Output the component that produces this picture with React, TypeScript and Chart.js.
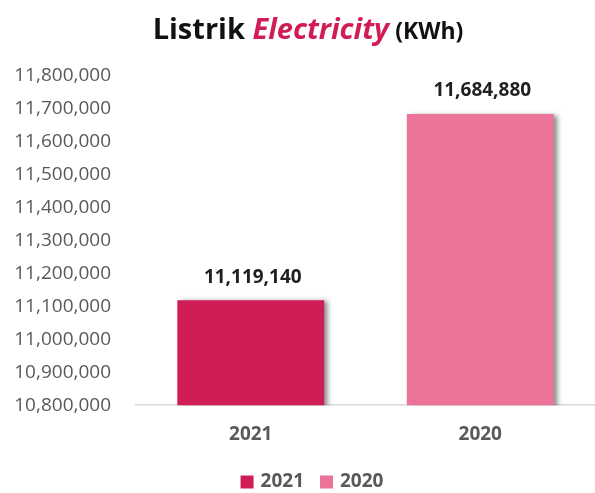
import React, { useEffect, useRef } from 'react';
import { Chart, registerables } from 'chart.js';

Chart.register(...registerables);

const categories: string[] = ['2021', '2020'];
const values: number[] = [11119140, 11684880];
const barColors: string[] = ['#D11D55', '#EB7397'];
const yMin = 10800000;
const yMax = 11800000;
const yStep = 100000;
const titleParts = ['Listrik ', 'Electricity', ' (KWh)'];

const FONT = '"Open Sans", "Noto Sans", sans-serif';
const fmt = (v: number) => Math.round(v).toLocaleString('en-US');

export default function App() {
  const ref = useRef<HTMLCanvasElement>(null);

  useEffect(() => {
    if (!ref.current) return;

    const shadowPlugin = {
      id: 'barShadow',
      beforeDatasetDraw(chart: any) {
        const ctx = chart.ctx;
        ctx.save();
        ctx.shadowColor = 'rgba(0,0,0,0.45)';
        ctx.shadowBlur = 5;
        ctx.shadowOffsetX = 4;
        ctx.shadowOffsetY = 1;
      },
      afterDatasetDraw(chart: any) {
        chart.ctx.restore();
      },
    };

    const valueLabels = {
      id: 'valueLabels',
      afterDatasetsDraw(chart: any) {
        const ctx = chart.ctx;
        const meta = chart.getDatasetMeta(0);
        ctx.save();
        ctx.font = `bold 19px ${FONT}`;
        ctx.fillStyle = '#1F1F1F';
        ctx.textAlign = 'center';
        ctx.textBaseline = 'middle';
        meta.data.forEach((bar: any, i: number) => {
          ctx.fillText(fmt(values[i]), bar.x + 2, bar.y - 23);
        });
        ctx.restore();
      },
    };

    const titlePlugin = {
      id: 'mixedTitle',
      afterDraw(chart: any) {
        const ctx = chart.ctx;
        ctx.save();
        const fonts = [`bold 29px ${FONT}`, `italic bold 29px ${FONT}`, `bold 23px ${FONT}`];
        const colors = ['#111111', '#D11D55', '#111111'];
        const widths = titleParts.map((t, i) => {
          ctx.font = fonts[i];
          return ctx.measureText(t).width;
        });
        const total = widths.reduce((a, b) => a + b, 0);
        let x = 308 - total / 2;
        ctx.textBaseline = 'alphabetic';
        ctx.textAlign = 'left';
        titleParts.forEach((t, i) => {
          ctx.font = fonts[i];
          ctx.fillStyle = colors[i];
          ctx.fillText(t, x, 39);
          x += widths[i];
        });
        ctx.restore();
      },
    };

    const legendPlugin = {
      id: 'customLegend',
      afterDraw(chart: any) {
        const ctx = chart.ctx;
        ctx.save();
        ctx.font = `bold 19px ${FONT}`;
        const box = 13;
        const gap = 7;
        const itemGap = 16;
        const widths = categories.map((c) => box + gap + ctx.measureText(c).width);
        const total = widths.reduce((a, b) => a + b, 0) + itemGap * (categories.length - 1);
        let x = 312 - total / 2;
        const cy = 482;
        ctx.textBaseline = 'middle';
        ctx.textAlign = 'left';
        categories.forEach((c, i) => {
          ctx.fillStyle = barColors[i];
          ctx.fillRect(x, cy - box / 2, box, box);
          ctx.fillStyle = '#595959';
          ctx.fillText(c, x + box + gap, cy);
          x += widths[i] + itemGap;
        });
        ctx.restore();
      },
    };

    const chart = new Chart(ref.current, {
      type: 'bar',
      data: {
        labels: categories,
        datasets: [
          {
            label: 'Listrik',
            data: values,
            backgroundColor: barColors,
            borderWidth: 0,
            barPercentage: 0.64,
            categoryPercentage: 1,
          },
        ],
      },
      options: {
        animation: false,
        responsive: false,
        devicePixelRatio: 1,
        layout: { padding: { top: 76, left: 10, right: 0, bottom: 29 } },
        plugins: {
          legend: { display: false },
          title: { display: false },
          tooltip: { enabled: false },
        },
        scales: {
          x: {
            grid: { display: false, drawTicks: false },
            border: { display: true, color: '#D9D9D9', width: 1.5 },
            ticks: {
              padding: 18,
              color: '#595959',
              font: { family: FONT, size: 19, weight: 'bold' },
            },
          },
          y: {
            min: yMin,
            max: yMax,
            grid: { display: false, drawTicks: false },
            border: { display: false },
            afterFit: (scale: any) => {
              scale.width = 126;
            },
            ticks: {
              stepSize: yStep,
              padding: 25,
              color: '#595959',
              font: { family: FONT, size: 19 },
              callback: (v: any) => fmt(Number(v)),
            },
          },
        },
      },
      plugins: [shadowPlugin, valueLabels, titlePlugin, legendPlugin],
    });

    return () => chart.destroy();
  }, []);

  return (
    <div style={{ position: 'absolute', left: 0, top: 0, width: 595, height: 493, background: '#ffffff' }}>
      <canvas ref={ref} width={595} height={493} style={{ display: 'block' }} />
    </div>
  );
}
